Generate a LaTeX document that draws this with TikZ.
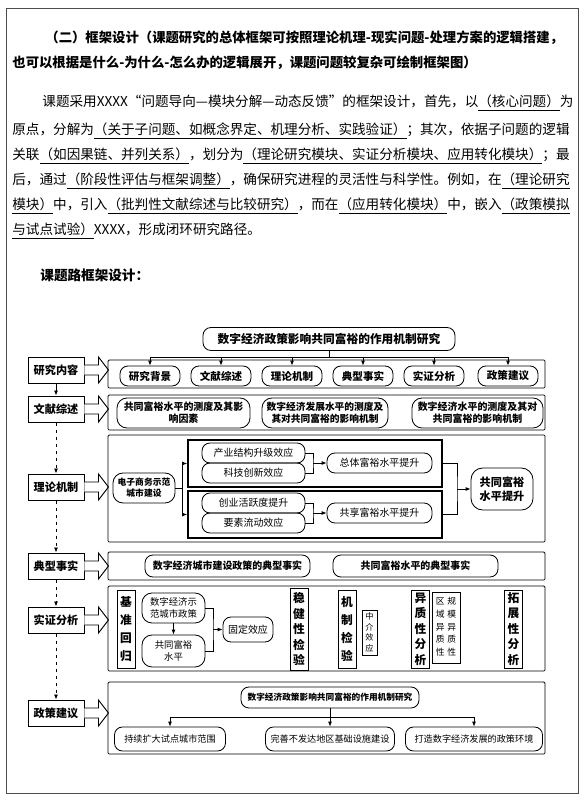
\documentclass[tikz,border=0pt]{standalone}
\usepackage{fontspec}
\setmainfont{Noto Sans CJK SC}
\usetikzlibrary{arrows.meta}

\tikzset{
  tip/.style={-{Latex[length=1.5mm,width=1.2mm]}},
  line/.style={anchor=west, inner sep=0pt, font=\fontsize{11.6}{14}\selectfont},
  sidebox/.style={draw, line width=0.8pt, minimum width=16.8mm, minimum height=7.8mm, inner sep=0pt, font=\fontsize{9.5}{11}\selectfont\bfseries},
  panel/.style={draw, rounded corners=1pt},
  pill/.style={draw, rounded corners=2.4mm, inner sep=0pt, align=center},
  colbox/.style={draw, line width=0.8pt, inner sep=0pt, align=center, minimum width=5.4mm, font=\fontsize{10}{#1}\selectfont\bfseries},
  hollow/.style={draw, line width=0.8pt, fill=white}
}

\begin{document}
\begin{tikzpicture}[x=0.3mm,y=-0.3mm,line width=0.7pt]

\fill[white] (0,0) rectangle (585,801);
\useasboundingbox (0,0) rectangle (585,801);
\draw[gray!60!black, line width=0.8pt] (6,8) rectangle (578,793);

% 框架设计说明
\node[line, font=\fontsize{11.4}{14}\selectfont\bfseries] (h1) at (45,38) {（二）框架设计（课题研究的总体框架可按照理论机理-现实问题-处理方案的逻辑搭建，};
\node[line, font=\fontsize{11.4}{14}\selectfont\bfseries] (h2) at (12,63) {也可以根据是什么-为什么-怎么办的逻辑展开，课题问题较复杂可绘制框架图）};

\node[line] (p1) at (42,103) {课题采用XXXX“问题导向—模块分解—动态反馈”的框架设计，首先，以\underline{（核心问题）}为};
\node[line] (p2) at (12,131) {原点，分解为\underline{（关于子问题、如概念界定、机理分析、实践验证）}；其次，依据子问题的逻辑};
\node[line] (p3) at (12,156) {关联\underline{（如因果链、并列关系）}，划分为\underline{（理论研究模块、实证分析模块、应用转化模块）}；最};
\node[line] (p4) at (12,181) {后，通过\underline{（阶段性评估与框架调整）}，确保研究进程的灵活性与科学性。例如，在\underline{（理论研究}};
\node[line] (p5) at (12,206) {\underline{模块）}中，引入\underline{（批判性文献综述与比较研究）}，而在\underline{（应用转化模块）}中，嵌入\underline{（政策模拟}};
\node[line] (p6) at (12,231) {\underline{与试点试验）}XXXX，形成闭环研究路径。};

\node[line, font=\fontsize{11.6}{14}\selectfont\bfseries] (kt) at (40,275) {课题路框架设计：};

% 左侧栏
\node[sidebox] (nr) at (56,370) {研究内容};
\node[sidebox] (wx) at (56,409) {文献综述};
\node[sidebox] (ll) at (56,487) {理论机制};
\node[sidebox] (dx) at (56,566) {典型事实};
\node[sidebox] (sz) at (56,620) {实证分析};
\node[sidebox] (zc) at (56,713) {政策建议};

\draw[tip] (nr) -- (wx);
\foreach \a/\b in {wx/ll,ll/dx,dx/sz,sz/zc}
{
    \draw[tip, dashed] (\a) -- (\b);
}

\foreach \n in {nr,wx,ll,dx,sz,zc}
{
    \draw[hollow] (\n.east) ++(0,-5) -- ++(14,0) -- ++(0,-8) -- ++(10,13) -- ++(-10,13) -- ++(0,-8) -- ++(-14,0);
}

% 面板
\draw[panel] (108,360) rectangle (545,388);
\draw[panel] (108,395) rectangle (545,430);
\draw[panel] (108,435) rectangle (545,542);
\draw[panel] (108,552) rectangle (545,580);
\draw[panel] (108,586) rectangle (545,671);
\draw[panel] (108,682) rectangle (545,754);

% 研究内容
\node[pill, minimum width=75.6mm, minimum height=6.9mm, font=\fontsize{10}{12}\selectfont\bfseries] (tt) at (329,339) {数字经济政策影响共同富裕的作用机制研究};
\coordinate (bl) at (150,357);
\coordinate (br) at (508,357);
\draw (tt.south) -- (tt.south |- bl);
\draw (bl) -- (br);
\foreach \x/\t [count=\i] in {150/研究背景,221/文献综述,292/理论机制,363/典型事实,434/实证分析,508/政策建议}
{
    \node[pill, minimum width=18mm, minimum height=6mm, font=\fontsize{9}{11}\selectfont\bfseries] (k\i) at (\x,376) {\t};
    \draw[tip] (k\i.north |- bl) -- (k\i.north);
}

% 文献综述
\node[pill, rounded corners=3mm, minimum width=39.9mm, minimum height=9mm, font=\fontsize{8.5}{10.5}\selectfont\bfseries] (w1) at (183.5,413) {共同富裕水平的测度及其影\\响因素};
\node[pill, rounded corners=3mm, minimum width=37.8mm, minimum height=9mm, font=\fontsize{8.3}{10.5}\selectfont\bfseries] (w2) at (325,413) {数字经济发展水平的测度及\\其对共同富裕的影响机制};
\node[pill, rounded corners=3mm, minimum width=39.3mm, minimum height=9mm, font=\fontsize{8.5}{10.5}\selectfont\bfseries] (w3) at (477.5,413) {数字经济水平的测度及其对\\共同富裕的影响机制};

% 理论机制
\node[pill, rounded corners=3mm, minimum width=18.6mm, minimum height=9mm, font=\fontsize{7.5}{9.5}\selectfont\bfseries] (dz) at (144,488) {电子商务示范\\城市建设};
\node[draw, line width=1.4pt, minimum width=76.2mm, minimum height=14.1mm] (sa) at (315,463.5) {};
\node[draw, line width=1.4pt, minimum width=76.2mm, minimum height=14.1mm] (sb) at (315,514.5) {};

\coordinate (fz) at (182,488);
\draw (dz.east) -- (fz);
\draw (fz |- sa.west) -- (fz |- sb.west);
\draw[tip] (fz |- sa.west) -- (sa.west);
\draw[tip] (fz |- sb.west) -- (sb.west);

\foreach \t/\y [count=\i] in {产业结构升级效应/453,科技创新效应/473,创业活跃度提升/503,要素流动效应/523}
{
    \node[pill, minimum width=30.9mm, minimum height=6mm, font=\fontsize{8.5}{10}\selectfont] (c\i) at (253.5,\y) {\t};
}
\node[pill, minimum width=31.5mm, minimum height=6mm, font=\fontsize{8.5}{10}\selectfont] (r1) at (379.5,463) {总体富裕水平提升};
\node[pill, minimum width=31.5mm, minimum height=6mm, font=\fontsize{8.5}{10}\selectfont] (r2) at (379.5,513) {共享富裕水平提升};
\coordinate (ka) at (313,463);
\coordinate (kb) at (313,513);
\draw (c1.east) -| (ka) |- (c2.east);
\draw[tip] (ka) -- (r1.west);
\draw (c3.east) -| (kb) |- (c4.east);
\draw[tip] (kb) -- (r2.west);

\node[pill, rounded corners=3.5mm, minimum width=18.6mm, minimum height=12.6mm, font=\fontsize{9.5}{12}\selectfont\bfseries] (gt) at (502,489) {共同富裕\\水平提升};
\coordinate (kc) at (457,489);
\draw (sa.east) -| (kc) |- (sb.east);
\draw[tip] (kc) -- (gt.west);

% 典型事实
\node[pill, minimum width=49.5mm, minimum height=6.6mm, font=\fontsize{8.5}{10}\selectfont\bfseries] (d1) at (227.5,566) {数字经济城市建设政策的典型事实};
\node[pill, minimum width=49.5mm, minimum height=6.6mm, font=\fontsize{8.5}{10}\selectfont\bfseries] (d2) at (415.5,566) {共同富裕水平的典型事实};

% 实证分析
\node[colbox=15.4, minimum height=23.4mm] (jz) at (126,629) {基\\准\\回\\归};
\node[pill, rounded corners=3mm, minimum width=18.9mm, minimum height=9mm, font=\fontsize{8}{10}\selectfont] (s1) at (173.5,608) {数字经济示\\范城市政策};
\node[pill, rounded corners=3mm, minimum width=18.9mm, minimum height=9.6mm, font=\fontsize{8}{10}\selectfont] (s2) at (173.5,651) {共同富裕\\水平};
\draw[tip] (s1) -- (s2);
\coordinate (kd) at (213,629.5);
\draw (s1.east) -| (kd) |- (s2.east);
\node[pill, minimum width=15mm, minimum height=7.5mm, font=\fontsize{8.5}{10}\selectfont] (gd) at (248,629.5) {固定效应};
\draw[tip] (kd) -- (gd.west);

\node[colbox=13.2, minimum height=24.6mm] (wj) at (299,629) {稳\\健\\性\\检\\验};
\node[colbox=15.4, minimum height=23.4mm] (jy) at (347,629) {机\\制\\检\\验};
\node[draw, inner sep=0pt, align=center, minimum width=4.5mm, minimum height=13.5mm, font=\fontsize{7}{9}\selectfont] (zj) at (369.5,632.5) {中\\介\\效\\应};
\node[colbox=13.2, minimum height=23.4mm] (yz) at (420.5,629) {异\\质\\性\\分\\析};
\node[draw, inner sep=0pt, minimum width=8.4mm, minimum height=21.3mm, font=\fontsize{7.5}{11}\selectfont] (yb) at (446,627.5) {\begin{tabular}{@{}c@{\hspace{0.8mm}}c@{}}区&规\\域&模\\异&异\\质&质\\性&性\end{tabular}};
\node[colbox=13.2, minimum height=23.4mm] (tz) at (513.5,629) {拓\\展\\性\\分\\析};

% 政策建议
\node[pill, minimum width=53.4mm, minimum height=6.3mm, font=\fontsize{7.4}{9}\selectfont\bfseries] (t2) at (330,697.5) {数字经济政策影响共同富裕的作用机制研究};
\coordinate (el) at (170,717);
\coordinate (er) at (474,717);
\draw (t2.south) -- (t2.south |- el);
\draw (el) -- (er);
\foreach \x/\w/\t [count=\i] in {170/33.3/持续扩大试点城市范围,330/38.7/完善不发达地区基础设施建设,474/41.1/打造数字经济发展的政策环境}
{
    \node[pill, minimum width=\w mm, minimum height=7.2mm, font=\fontsize{7.8}{10}\selectfont] (e\i) at (\x,739) {\t};
    \draw[tip] (e\i.north |- el) -- (e\i.north);
}

\end{tikzpicture}
\end{document}
